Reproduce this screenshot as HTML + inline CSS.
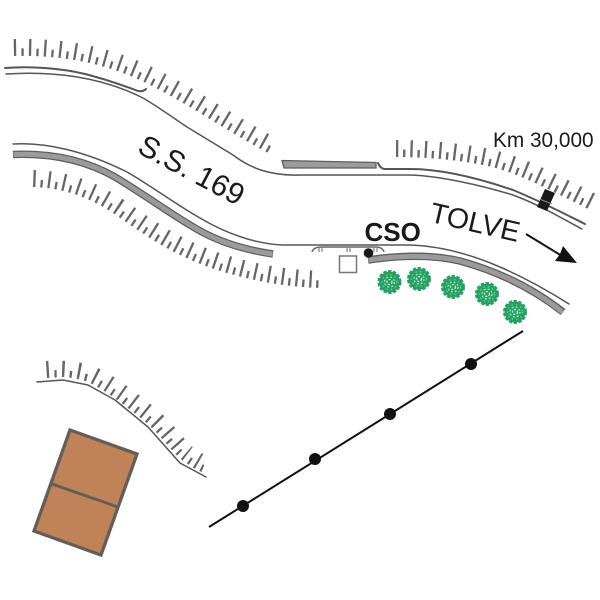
<!DOCTYPE html>
<html><head><meta charset="utf-8"><style>
html,body{margin:0;padding:0;background:#fff}
svg{display:block}
text{font-family:"Liberation Sans",sans-serif;fill:#1a1a1a}
</style></head><body>
<svg width="600" height="600" viewBox="0 0 600 600" xmlns="http://www.w3.org/2000/svg">
<defs>
<g id="t">
<circle r="10.500" fill="#27a163"/>
<circle r="11" fill="none" stroke="#27a163" stroke-width="2" stroke-dasharray="3.500 1.500"/>
<circle r="7.500" fill="none" stroke="#6fcb98" stroke-width="1.200" stroke-dasharray="1.500 3"/>
<circle r="5" fill="none" stroke="#a5e0bd" stroke-width="1.300" stroke-dasharray="2 2"/>
<circle r="2.500" fill="none" stroke="#c8eed8" stroke-width="1.300" stroke-dasharray="2 1.500"/>
</g>
<clipPath id="c1"><path d="M0 56L14 56C60 55 105 62 150 85C190 105 225 130 268 153L300 153L300 0L0 0Z"/></clipPath>
<clipPath id="c2"><path d="M0 187L33 187C65 188 90 198 113 213C145 235 175 258 227 273C255 281 285 287 323 288L400 288L400 100L0 100Z"/></clipPath>
<clipPath id="c3"><path d="M380 157L396 157C425 157 463 160 492 167C520 174 550 190 590 210L600 210L600 100L380 100Z"/></clipPath>
<clipPath id="c4"><path d="M30 378L47 378L63 377C75 378 82 380 88 382C105 390 125 405 148 424C162 437 172 452 182 460C190 466 196 470 204 473L230 473L230 340L30 340Z"/></clipPath>
</defs>
<rect width="600" height="600" fill="#fff"/>

<g fill="none" stroke="#666">
<g clip-path="url(#c1)">
<path stroke-width="34" stroke-dasharray="2.300 12.500" d="M14 56C60 55 105 62 150 85C190 105 225 130 268 153"/>
<path stroke-width="15" stroke-dasharray="2.300 12.500" stroke-dashoffset="-7.400" d="M14 56C60 55 105 62 150 85C190 105 225 130 268 153"/>
</g>
<g clip-path="url(#c2)">
<path stroke-width="34" stroke-dasharray="2.300 11.900" d="M33 187C65 188 90 198 113 213C145 235 175 258 227 273C255 281 285 287 323 288"/>
<path stroke-width="15" stroke-dasharray="2.300 11.900" stroke-dashoffset="-7.100" d="M33 187C65 188 90 198 113 213C145 235 175 258 227 273C255 281 285 287 323 288"/>
</g>
<g clip-path="url(#c3)">
<path stroke-width="34" stroke-dasharray="2.300 11.900" d="M396 157C425 157 463 160 492 167C520 174 550 190 590 210"/>
<path stroke-width="15" stroke-dasharray="2.300 11.900" stroke-dashoffset="-7.100" d="M396 157C425 157 463 160 492 167C520 174 550 190 590 210"/>
</g>
<g clip-path="url(#c4)">
<path stroke-width="34" stroke-dasharray="2.300 12.500" d="M47 378C62 377 75 378 88 382C105 390 125 405 148 424C162 437 172 452 182 460C190 466 196 470 204 473"/>
<path stroke-width="15" stroke-dasharray="2.300 12.500" stroke-dashoffset="-7.400" d="M47 378C62 377 75 378 88 382C105 390 125 405 148 424C162 437 172 452 182 460C190 466 196 470 204 473"/>
</g>
</g>

<!-- road lines -->
<g fill="none" stroke="#555" stroke-linecap="round" stroke-linejoin="round">
<path stroke-width="2" d="M5 68C30 66 60 68 85 74C105 79 122 85 138 91C141 91.500 144 91 146 89"/>
<path stroke-width="1.500" d="M6 74C50 71 100 76 143 98C160 108 172 117 187 127C205 138 220 147 233 155C250 168 270 176 300 175L410 175C440 176 480 185 513 195C540 205 565 220 582 229"/>
<path stroke-width="2" d="M378 163C379 166 381 168 384 169L410 169C440 169 475 177 513 190C540 201 565 214 585 224"/>
<path stroke-width="1.500" d="M13 144C45 142 85 151 127 172C150 185 175 204 200 218C225 233 255 244 283 245L410 245C440 246 470 254 500 267C525 278 550 292 569 304"/>
<path stroke-width="1.500" d="M37 382L63 380L88 385L115 400L148 427L180 463L206 477"/>
</g>

<!-- gray bands -->
<g fill="none" stroke-linecap="butt">
<path stroke="#5d5d5d" stroke-width="7.500" d="M13 154.500C50 153 85 160 115 177C145 195 165 210 190 225C215 241 245 250 273 254"/>
<path stroke="#9b9b9b" stroke-width="5" d="M13.500 154.500C50 153 85 160 115 177C145 195 165 210 190 225C215 241 245 250 272.500 254"/>
<path stroke="#5d5d5d" stroke-width="7.500" d="M368 260C395 256 430 254 460 261C500 272 535 290 563 312"/>
<path stroke="#9b9b9b" stroke-width="5" d="M368.500 260C395 256 430 254 460 261C500 272 535 290 562.500 312"/>
</g>
<path d="M282 160.500L376 162.500V168H284Z" fill="#9b9b9b" stroke="#5d5d5d" stroke-width="1.300"/>

<!-- culvert -->
<polygon points="545,189 555,193 547,211 537,207" fill="#1a1a1a"/>
<path d="M539.500 199L552 204" stroke="#888" stroke-width="1"/>

<!-- bridge -->
<g fill="none" stroke="#666" stroke-width="1.500">
<path d="M312 252C313 248 317 247 322 247L375 247C379 247 383 248 384 252"/>
<path stroke-width="1" d="M319 248V252M322 248V252M347 248V252M350 248V252M374 248V252M377 248V252"/>
</g>
<rect x="339.500" y="256" width="17" height="16.500" fill="#fff" stroke="#777" stroke-width="1.500"/>
<circle cx="368.500" cy="253" r="4.800" fill="#1a1a1a"/>

<!-- trees -->
<use href="#t" x="389.500" y="282"/>
<use href="#t" x="419" y="279"/>
<use href="#t" x="453" y="287"/>
<use href="#t" x="487" y="294"/>
<use href="#t" x="515" y="312"/>

<!-- rail -->
<line x1="209" y1="527" x2="523" y2="331" stroke="#111" stroke-width="2"/>
<g fill="#111">
<circle cx="243" cy="506" r="6"/>
<circle cx="315" cy="459" r="6"/>
<circle cx="390" cy="414" r="6"/>
<circle cx="471" cy="364" r="6"/>
</g>

<!-- building -->
<polygon points="70,430 137,454 101,555 34,531" fill="#c08357" stroke="#645d58" stroke-width="3.300"/>
<line x1="52" y1="484" x2="118" y2="507" stroke="#645d58" stroke-width="3"/>

<!-- arrow -->
<line x1="526" y1="234" x2="562" y2="256" stroke="#111" stroke-width="2"/>
<polygon points="577,263 555,261 560,254 563,246" fill="#111"/>

<!-- labels -->
<text x="493" y="147" font-size="20.800">Km 30,000</text>
<text x="364.500" y="241" font-size="26" font-weight="bold">CSO</text>
<text font-size="30" transform="translate(136,152) rotate(28)">S.S. 169</text>
<text font-size="28.600" transform="translate(428.500,221.500) rotate(13)">TOLVE</text>
</svg>
</body></html>
